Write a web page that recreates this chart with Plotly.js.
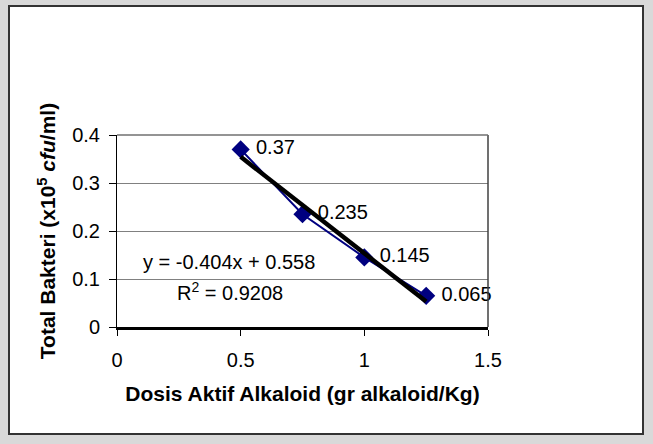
<!DOCTYPE html>
<html>
<head>
<meta charset="utf-8">
<script src="https://cdn.plot.ly/plotly-3.0.1.min.js"></script>
<style>
html,body{margin:0;padding:0;background:#d9d9d9;}
#chart{width:653px;height:444px;}
</style>
</head>
<body>
<div id="chart"></div>
<script>
// Data
const doses = [0.5, 0.75, 1.0, 1.25];
const bacteria = [0.37, 0.235, 0.145, 0.065];
const pointLabels = ['0.37', '0.235', '0.145', '0.065'];
const xTicks = [0, 0.5, 1, 1.5];
const xTickLabels = ['0', '0.5', '1', '1.5'];
const yTicks = [0, 0.1, 0.2, 0.3, 0.4];
const yTickLabels = ['0', '0.1', '0.2', '0.3', '0.4'];
const equationText = 'y = -0.404x + 0.558';
const r2Text = 'R<sup>2</sup> = 0.9208';
const xTitle = '<b>Dosis Aktif Alkaloid (gr alkaloid/Kg)</b>';
const yTitle = '<b>Total Bakteri (x10<sup>5</sup> <i>cfu</i>/ml)</b>';

// Linear least-squares trendline from the data
const n = doses.length;
const mx = doses.reduce((a, b) => a + b, 0) / n;
const my = bacteria.reduce((a, b) => a + b, 0) / n;
let sxy = 0, sxx = 0;
for (let i = 0; i < n; i++) { sxy += (doses[i] - mx) * (bacteria[i] - my); sxx += (doses[i] - mx) ** 2; }
const slope = sxy / sxx, intercept = my - slope * mx;
const trendX = [Math.min(...doses), Math.max(...doses)];
const trendY = trendX.map(x => slope * x + intercept);

const font = 'Liberation Sans, Arial, sans-serif';
const FS = 20;

const traces = [
  {
    x: doses, y: bacteria, type: 'scatter', mode: 'lines+markers+text',
    line: {color: '#000080', width: 2},
    marker: {symbol: 'diamond', size: 14, color: '#000080'},
    text: pointLabels.map(s => '\u00a0' + s), textposition: 'middle right',
    textfont: {family: font, size: FS, color: '#000'},
    cliponaxis: false, hoverinfo: 'x+y'
  },
  {
    x: trendX, y: trendY, type: 'scatter', mode: 'lines',
    line: {color: '#000', width: 4.5}, hoverinfo: 'skip'
  }
];

const px = p => (p - 117) / 371;
const py = p => (327 - p) / 192;

const layout = {
  width: 653, height: 444,
  margin: {l: 117, r: 165, t: 135, b: 117},
  paper_bgcolor: '#d9d9d9',
  plot_bgcolor: 'rgba(0,0,0,0)',
  showlegend: false,
  font: {family: font, size: FS, color: '#000'},
  xaxis: {
    range: [0, 1.5], tickvals: xTicks, ticktext: xTickLabels,
    ticks: 'outside', ticklen: 6, tickcolor: '#000', tickwidth: 1,
    showline: true, linecolor: '#000', linewidth: 2.5,
    showgrid: false, zeroline: false,
    tickfont: {family: font, size: FS}, ticklabelstandoff: 7,
    title: {text: xTitle, font: {family: font, size: 21}, standoff: 17},
    fixedrange: true
  },
  yaxis: {
    range: [0, 0.4], tickvals: yTicks, ticktext: yTickLabels,
    ticks: 'outside', ticklen: 7, tickcolor: '#000', tickwidth: 1,
    showline: true, linecolor: '#000', linewidth: 1,
    showgrid: true, gridcolor: '#808080', gridwidth: 1,
    zeroline: false,
    tickfont: {family: font, size: FS}, ticklabelstandoff: 5,
    title: {text: yTitle, font: {family: font, size: 21}, standoff: 10},
    fixedrange: true
  },
  shapes: [
    {type: 'rect', xref: 'paper', yref: 'paper', layer: 'below',
     x0: px(9), x1: px(643), y0: py(434), y1: py(6),
     fillcolor: '#ffffff', line: {color: '#333333', width: 2}},
    {type: 'line', xref: 'paper', yref: 'paper', layer: 'above',
     x0: 1, x1: 1, y0: 0, y1: 1, line: {color: '#404040', width: 1.5}},
    {type: 'line', xref: 'paper', yref: 'paper', layer: 'above',
     x0: 0, x1: 1, y0: 1, y1: 1, line: {color: '#707070', width: 1.5}}
  ],
  annotations: [
    {xref: 'x', yref: 'y', x: 0.453, y: 0.135, text: equationText, showarrow: false,
     font: {family: font, size: FS}, xanchor: 'center', yanchor: 'middle'},
    {xref: 'x', yref: 'y', x: 0.458, y: 0.073, text: r2Text, showarrow: false,
     font: {family: font, size: FS}, xanchor: 'center', yanchor: 'middle'}
  ]
};

Plotly.newPlot('chart', traces, layout, {displayModeBar: false, staticPlot: true});
</script>
</body>
</html>
